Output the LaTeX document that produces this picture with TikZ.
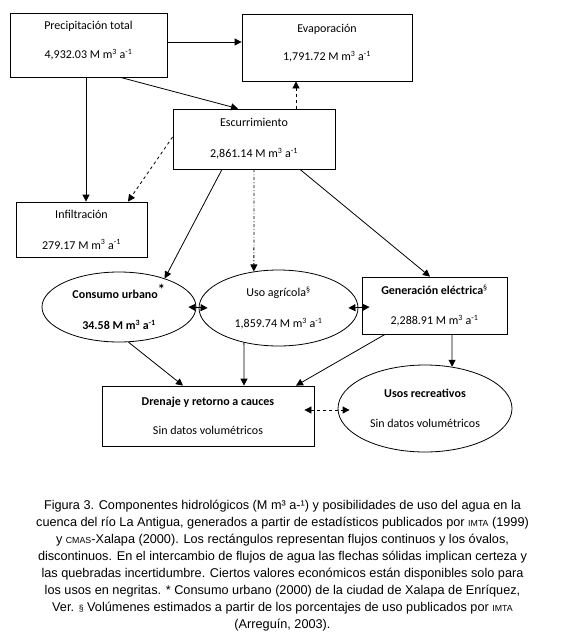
\documentclass[tikz,border=0pt]{standalone}
\usepackage{fontspec}
\setmainfont{Carlito}
\newfontfamily\capfont{Liberation Sans}
\usetikzlibrary{arrows.meta,shapes.geometric}
\newcommand{\vol}[1]{#1 M m\textsuperscript{3} a\textsuperscript{-1}}
\newcommand{\sca}[1]{{\fontsize{8.8}{8.8}\selectfont #1}}
\begin{document}
\begin{tikzpicture}[x=1pt,y=-1pt,
  box/.style={draw,thick,rectangle,align=center,font=\fontsize{12}{14}\selectfont,inner sep=0pt},
  oval/.style={draw,thick,ellipse,align=center,font=\fontsize{12}{14}\selectfont,inner sep=0pt},
  >={Triangle[length=7pt,width=7pt]}]
\useasboundingbox (0,0) rectangle (565,643);
\node [box,minimum width=157pt,minimum height=64pt] (n0) at (88.5,45) {Precipitación total\\[15pt]\vol{4,932.03}\\[-4pt]};
\node [box,minimum width=170pt,minimum height=67pt] (n1) at (327,47.5) {Evaporación\\[14pt]\vol{1,791.72}\\[-4pt]};
\node [box,minimum width=162pt,minimum height=60pt] (n2) at (254,139) {Escurrimiento\\[17pt]\vol{2,861.14}};
\node [box,minimum width=131pt,minimum height=55pt] (n3) at (81.5,229.5) {Infiltración\\[17pt]\vol{279.17}};
\node [oval,minimum width=154pt,minimum height=70pt] (n4) at (119,307) {\textbf{Consumo urbano}\textsuperscript{\textbf{\Large *}}\\[17pt]\textbf{\vol{34.58}}};
\node [oval,minimum width=159pt,minimum height=76pt] (n5) at (278.5,308) {Uso agrícola\textsuperscript{§}\\[17pt]\vol{1,859.74}};
\node [box,minimum width=145pt,minimum height=57pt] (n6) at (434.5,305.5) {\textbf{Generación eléctrica}\textsuperscript{§}\\[16pt]\vol{2,288.91}};
\node [box,minimum width=212pt,minimum height=60pt] (n7) at (208,416) {\textbf{Drenaje y retorno a cauces}\\[15pt]Sin datos volumétricos};
\node [oval,minimum width=174pt,minimum height=87pt] (n8) at (425,408.5) {\textbf{Usos recreativos}\\[16pt]Sin datos volumétricos};
\draw[thick,->] ([yshift=3pt]n0.east) -- ([yshift=5.5pt]n1.west);
\draw[thick,->] ([xshift=32pt]n0.south) -- ([xshift=-16pt]n2.north);
\draw[thick,->] ([xshift=-2.5pt]n0.south) -- ([xshift=4.5pt]n3.north);
\draw[thick,dashed,->] ([xshift=42pt]n2.north) -- ([xshift=-31pt]n1.south);
\draw[thick,dashed,->] ([yshift=2pt]n2.west) -- ([xshift=46.5pt]n3.north);
\draw[thick,->] ([xshift=-32pt]n2.south) -- (n4.32);
\draw[thick,dash dot,->] (n2.south) -- (n5.124);
\draw[thick,->] ([xshift=46pt]n2.south) -- ([xshift=-4.5pt]n6.north);
\draw[thick,<->] ([xshift=-8pt]n4.east) -- ([xshift=9pt]n5.west);
\draw[thick,<->] ([xshift=-10pt]n5.east) -- ([xshift=8pt,yshift=-1.5pt]n6.west);
\draw[thick,->] (n4.-75) -- ([xshift=-25pt]n7.north);
\draw[thick,->] (n5.-135) -- ([xshift=36pt]n7.north);
\draw[thick,->] ([xshift=-49.5pt]n6.south) -- ([xshift=88pt]n7.north);
\draw[thick,->] ([xshift=17.5pt]n6.south) -- (n8.57);
\draw[thick,dashed,<->] ([xshift=-10pt,yshift=6pt]n7.east) -- ([xshift=12pt,yshift=-1.5pt]n8.west);
\node [font=\capfont\fontsize{12.7}{17}\selectfont,align=center] (cap) at (282.5,566) {Figura 3. Componentes hidrológicos (M m³ a-¹) y posibilidades de uso del agua en la\\
cuenca del río La Antigua, generados a partir de estadísticos publicados por \sca{IMTA} (1999)\\
y \sca{CMAS}-Xalapa (2000). Los rectángulos representan flujos continuos y los óvalos,\\
discontinuos. En el intercambio de flujos de agua las flechas sólidas implican certeza y\\
las quebradas incertidumbre. Ciertos valores económicos están disponibles solo para\\
los usos en negritas. * Consumo urbano (2000) de la ciudad de Xalapa de Enríquez,\\
Ver. {\fontsize{8.8}{8.8}\selectfont §} Volúmenes estimados a partir de los porcentajes de uso publicados por \sca{IMTA}\\
(Arreguín, 2003).};
\end{tikzpicture}
\end{document}
